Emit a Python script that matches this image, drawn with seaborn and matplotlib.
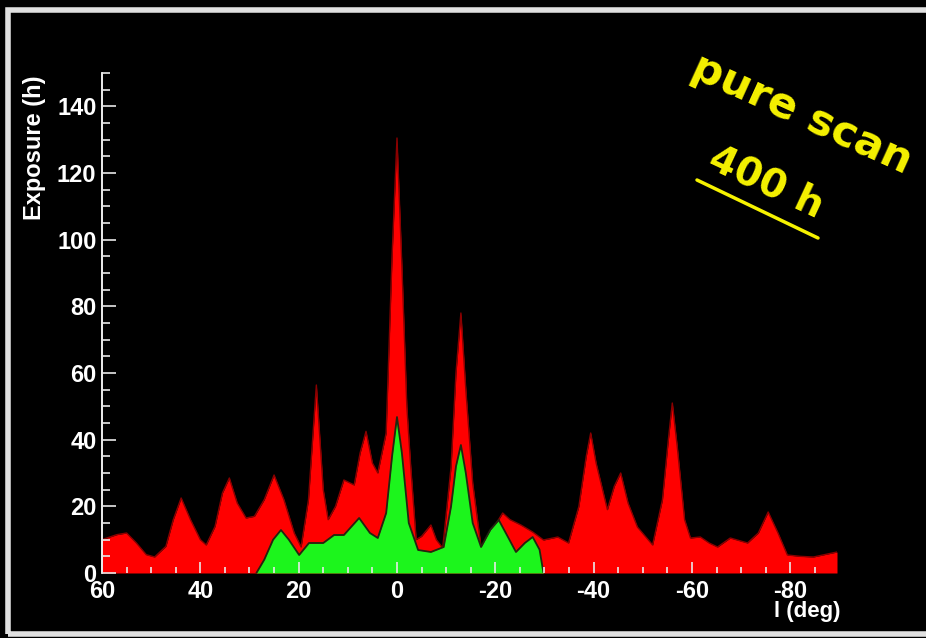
import matplotlib
matplotlib.use("Agg")
import matplotlib.pyplot as plt
import seaborn as sns
import pandas as pd
from matplotlib.ticker import MultipleLocator
from matplotlib.patches import Rectangle
from matplotlib.lines import Line2D

# ---- data (galactic longitude in deg, exposure in h)
red_l = [60, 57, 55, 53, 51, 49.3, 47, 45.5, 43.9, 42, 40, 38.8, 37, 35.5, 34.1,
         32.5, 30.7, 29, 27, 25, 23, 20.9, 19.5, 18, 16.4, 15, 14, 12.5, 10.8,
         8.7, 7.5, 6.3, 5, 3.9, 2.2, 1, 0, -1, -2, -2.8, -3.9, -5, -6.9, -8,
         -9.3, -11, -12, -13, -14, -15.4, -17.1, -19, -21.5, -23, -25.2, -27.6,
         -29.8, -32.7, -34.9, -37, -38.5, -39.4, -40.5, -42.8, -44.2, -45.5,
         -47, -48.9, -52, -54, -55.2, -56, -57, -58.5, -59.7, -61.7, -63.5,
         -65.2, -67.8, -71.3, -73.5, -75.5, -77.5, -79.4, -82, -84.7, -89.5]
red_exposure = [10, 11.5, 12, 9, 5.5, 4.8, 8, 16, 22.5, 16, 10, 8.4, 14, 24, 28.5,
                21, 16.5, 17, 22, 29.4, 22, 12, 7.8, 22, 56.4, 25, 16, 20, 27.9,
                26.4, 36, 42.5, 33, 30, 42, 95, 130.5, 92, 50, 31.8, 10, 11, 14.4, 10,
                7.5, 31.8, 60, 78, 55, 27, 7.8, 12, 18, 16, 14.4, 12.3,
                9.9, 10.8, 9, 20, 35, 42, 33, 19, 26, 30,
                21, 13.8, 8.4, 22, 40, 51, 38, 16, 10.5, 10.8, 9,
                7.8, 10.5, 9, 12, 18.3, 12, 5.4, 5, 4.8, 6.3]

green_l = [28.6, 27, 25.2, 23.6, 22, 19.9, 17.9, 15, 12.8, 10.8, 7.7, 5.5, 3.9,
           2.2, 1, 0, -1, -2.4, -4.3, -6.9, -9.5, -11, -12, -13, -14, -15.4,
           -17.1, -19, -20.7, -22.5, -24.2, -26, -27.6, -29, -29.8]
green_exposure = [0, 4, 10, 12.9, 10, 5.4, 9, 9, 11.4, 11.4, 16.5, 12, 10.5,
                  18, 35, 46.8, 36, 15, 6.9, 6.3, 7.8, 20, 32, 38.4, 30, 15,
                  7.8, 13, 15.9, 11, 6.3, 9, 10.8, 7, 0]

x_ticks = [60, 40, 20, 0, -20, -40, -60, -80]
y_ticks = [0, 20, 40, 60, 80, 100, 120, 140]

red_df = pd.DataFrame({"l": red_l, "exposure": red_exposure})
green_df = pd.DataFrame({"l": green_l, "exposure": green_exposure})

# ---- style
sns.set_style("dark", {"axes.facecolor": "black", "figure.facecolor": "black",
                       "xtick.bottom": True, "ytick.left": True})
plt.rcParams["font.family"] = ["Liberation Sans", "DejaVu Sans"]
plt.rcParams["font.weight"] = "bold"

W, H = 926, 638
fig = plt.figure(figsize=(W / 100, H / 100), dpi=100)
fig.patch.set_facecolor("black")

ax = fig.add_axes([102 / W, 1 - 573 / H, 735 / W, 500 / H])
ax.set_facecolor("black")
ax.grid(False)

# red exposure
ax.fill_between(red_df["l"], red_df["exposure"], 0, color="#ff0000", lw=0, zorder=1)
sns.lineplot(data=red_df, x="l", y="exposure", ax=ax, color="#8a0000", lw=1.0,
             sort=False, estimator=None, zorder=1.5)
# green exposure
ax.fill_between(green_df["l"], green_df["exposure"], 0, color="#1cf51c", lw=0, zorder=2)
sns.lineplot(data=green_df, x="l", y="exposure", ax=ax, color="#202810", lw=1.3,
             sort=False, estimator=None, zorder=2.2)

ax.set_xlim(60, -89.5)
ax.set_ylim(0, 150)
ax.set_xlabel("")
ax.set_ylabel("")

ax.set_xticks(x_ticks)
ax.set_xticklabels([str(v) for v in x_ticks])
ax.set_yticks(y_ticks)
ax.set_yticklabels([str(v) for v in y_ticks])
ax.xaxis.set_minor_locator(MultipleLocator(5))
ax.yaxis.set_minor_locator(MultipleLocator(5))
ax.set_axisbelow(False)

for s in ["top", "right", "bottom"]:
    ax.spines[s].set_visible(False)
ax.spines["left"].set_color("white")
ax.spines["left"].set_linewidth(1.3)

ax.tick_params(axis="both", which="both", direction="in", color="#e8e8e8",
               labelcolor="white", width=1.2, bottom=True, left=True,
               top=False, right=False)
ax.tick_params(axis="y", which="major", length=10, labelsize=17, pad=4)
ax.tick_params(axis="y", which="minor", length=6)
ax.tick_params(axis="x", which="major", length=8, labelsize=17, pad=5)
ax.tick_params(axis="x", which="minor", length=4)
for lbl in ax.get_xticklabels() + ax.get_yticklabels():
    lbl.set_fontweight("bold")

# axis titles (ROOT style placement)
fig.text(34 / W, 1 - 75 / H, "Exposure (h)", rotation=90, ha="center", va="top",
         color="white", fontsize=17, fontweight="bold")
fig.text(841 / W, 1 - 601 / H, "l (deg)", ha="right", va="top",
         color="white", fontsize=16, fontweight="bold")

# yellow annotations
yellow = "#f6f200"
fig.text(802 / W, 1 - 114 / H, "pure scan", rotation=-24.5, rotation_mode="anchor",
         ha="center", va="center", color=yellow, fontsize=31, fontweight="bold",
         family="DejaVu Sans")
fig.text(766 / W, 1 - 182 / H, "400 h", rotation=-25, rotation_mode="anchor",
         ha="center", va="center", color=yellow, fontsize=28, fontweight="bold",
         family="DejaVu Sans")
fig.add_artist(Line2D([697 / W, 818 / W], [1 - 180 / H, 1 - 238 / H],
                      transform=fig.transFigure, color=yellow, lw=2.5))

# outer frame
fig.add_artist(Rectangle((8 / W, 1 - 634 / H), 2.0, 624 / H, transform=fig.transFigure,
                         fill=False, edgecolor="#e0e0e0", lw=4))

fig.savefig("out.png", dpi=100, facecolor="black")
